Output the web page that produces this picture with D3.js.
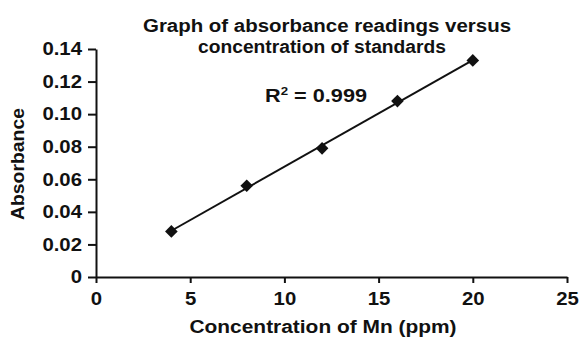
<!DOCTYPE html>
<html>
<head>
<meta charset="utf-8">
<script src="https://cdn.jsdelivr.net/npm/d3@7"></script>
<style>
  body { margin: 0; background: #fff; }
  text { font-family: "Liberation Sans", Arial, sans-serif; font-weight: bold; fill: #111; }
</style>
</head>
<body>
<div id="chart"></div>
<script>
// data
const concentration = [4, 8, 12, 16, 20];
const absorbance = [0.028, 0.056, 0.079, 0.108, 0.133];
const xTicks = [0, 5, 10, 15, 20, 25];
const yTicks = [0, 0.02, 0.04, 0.06, 0.08, 0.10, 0.12, 0.14];
const titleLines = ["Graph of absorbance readings versus", "concentration of standards"];

const W = 580, H = 339;
const margin = { top: 49, right: 13, bottom: 62, left: 96 };
const stretch = 1.13; // the reference lettering is wider than Liberation Sans

const svg = d3.select("#chart").append("svg")
  .attr("width", W).attr("height", H);

const x = d3.scaleLinear().domain([0, 25]).range([margin.left, W - margin.right]);
const y = d3.scaleLinear().domain([0, 0.14]).range([H - margin.bottom, margin.top]);

// widen a text element horizontally
function widen(sel, len) {
  sel.each(function () {
    const w = len || this.getComputedTextLength() * stretch;
    d3.select(this).attr("textLength", w).attr("lengthAdjust", "spacingAndGlyphs");
  });
}

// axes
const xAxis = svg.append("g")
  .attr("transform", `translate(0,${H - margin.bottom})`)
  .call(d3.axisBottom(x).tickValues(xTicks).tickSize(6).tickSizeOuter(0).tickPadding(9).tickFormat(d3.format("d")));
const yAxis = svg.append("g")
  .attr("transform", `translate(${margin.left},0)`)
  .call(d3.axisLeft(y).tickValues(yTicks).tickSize(8).tickSizeOuter(0).tickPadding(6)
    .tickFormat(d => d === 0 ? "0" : d3.format(".2f")(d)));

[xAxis, yAxis].forEach(g => {
  g.selectAll("path, line").attr("stroke", "#111").attr("stroke-width", 2);
  g.selectAll("text").style("font-size", "18px").attr("fill", "#111").call(widen);
});

// linear fit
const mx = d3.mean(concentration), my = d3.mean(absorbance);
const slope = d3.sum(concentration, (c, i) => (c - mx) * (absorbance[i] - my)) /
  d3.sum(concentration, c => (c - mx) * (c - mx));
const intercept = my - slope * mx;
const ends = d3.extent(concentration);

svg.append("path")
  .datum(ends)
  .attr("fill", "none")
  .attr("stroke", "#111")
  .attr("stroke-width", 2)
  .attr("d", d3.line().x(d => x(d)).y(d => y(slope * d + intercept)));

svg.selectAll(".pt")
  .data(concentration)
  .enter().append("path")
  .attr("class", "pt")
  .attr("transform", (d, i) => `translate(${x(d)},${y(absorbance[i])}) rotate(45)`)
  .attr("d", d3.symbol().type(d3.symbolSquare).size(80))
  .attr("fill", "#111");

// title
svg.selectAll(".title")
  .data(titleLines)
  .enter().append("text")
  .attr("class", "title")
  .attr("x", (d, i) => i === 0 ? 327 : 322)
  .attr("y", (d, i) => 32 + i * 21)
  .attr("text-anchor", "middle")
  .style("font-size", "18px")
  .text(d => d)
  .each(function (d, i) { widen(d3.select(this), i === 0 ? 368 : 248); });

// R squared
const r2 = svg.append("text")
  .attr("x", 265).attr("y", 102)
  .style("font-size", "18px");
r2.append("tspan").text("R");
r2.append("tspan").attr("dy", -7).style("font-size", "11px").text("2");
r2.append("tspan").attr("dy", 7).text(" = 0.999");
widen(r2, 102);

// axis labels
svg.append("text")
  .attr("x", 323)
  .attr("y", 333)
  .attr("text-anchor", "middle")
  .style("font-size", "18px")
  .text("Concentration of Mn (ppm)")
  .call(widen, 267);

svg.append("text")
  .attr("transform", `translate(24,164) rotate(-90)`)
  .attr("text-anchor", "middle")
  .style("font-size", "18px")
  .text("Absorbance")
  .call(widen, 112);
</script>
</body>
</html>
